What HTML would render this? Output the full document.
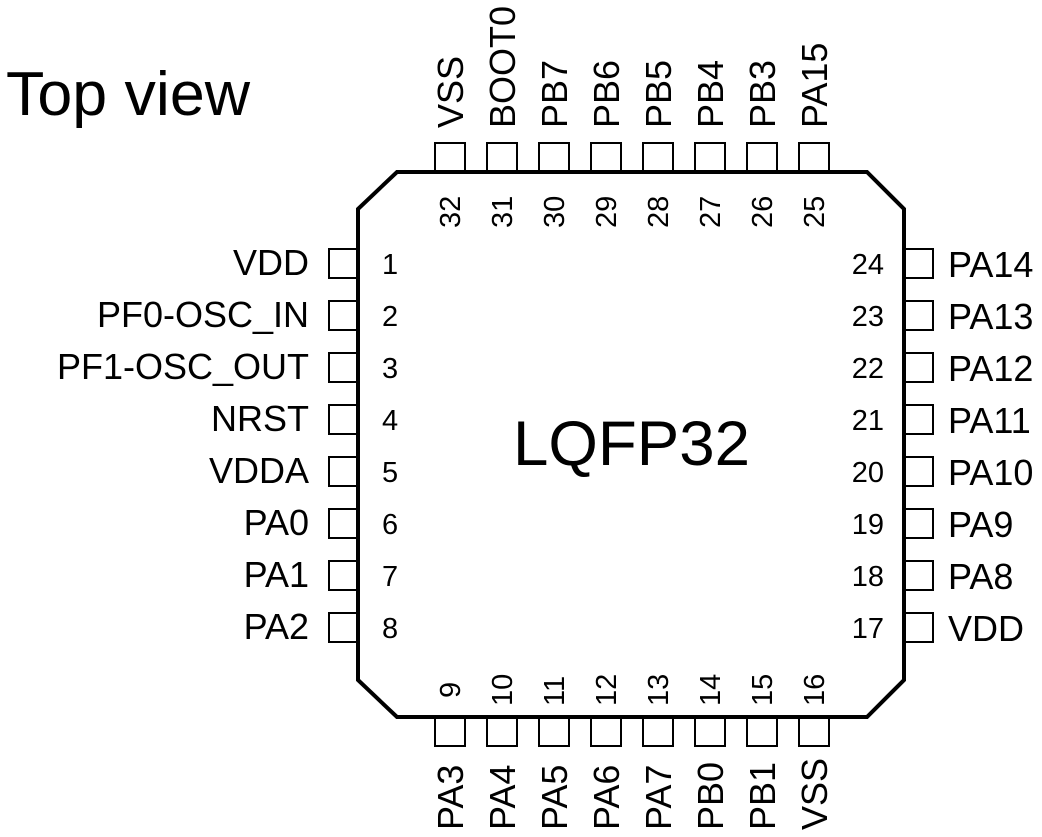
<!DOCTYPE html>
<html><head><style>body{margin:0;background:#fff}svg{display:block}text{font-family:"Liberation Sans",Arial,sans-serif;fill:#000}</style></head>
<body>
<svg width="1042" height="837" viewBox="0 0 1042 837" xmlns="http://www.w3.org/2000/svg">
<text x="6" y="115" font-size="62" textLength="244" lengthAdjust="spacingAndGlyphs">Top view</text>
<text x="513" y="465" font-size="63" textLength="237" lengthAdjust="spacingAndGlyphs">LQFP32</text>
<polygon points="397,172 867,172 904,209 904,680 867,717 397,717 358,680 358,209" fill="none" stroke="#000" stroke-width="4"/>
<g fill="none" stroke="#000" stroke-width="2">
<rect x="329" y="249" width="29" height="29"/><rect x="329" y="301" width="29" height="29"/><rect x="329" y="353" width="29" height="29"/><rect x="329" y="405" width="29" height="29"/><rect x="329" y="457" width="29" height="29"/><rect x="329" y="509" width="29" height="29"/><rect x="329" y="561" width="29" height="29"/><rect x="329" y="613" width="29" height="29"/>
<rect x="904" y="249" width="29" height="29"/><rect x="904" y="301" width="29" height="29"/><rect x="904" y="353" width="29" height="29"/><rect x="904" y="405" width="29" height="29"/><rect x="904" y="457" width="29" height="29"/><rect x="904" y="509" width="29" height="29"/><rect x="904" y="561" width="29" height="29"/><rect x="904" y="613" width="29" height="29"/>
<rect x="435" y="143" width="30" height="29"/><rect x="487" y="143" width="30" height="29"/><rect x="539" y="143" width="30" height="29"/><rect x="591" y="143" width="30" height="29"/><rect x="643" y="143" width="30" height="29"/><rect x="695" y="143" width="30" height="29"/><rect x="747" y="143" width="30" height="29"/><rect x="799" y="143" width="30" height="29"/>
<rect x="435" y="717" width="30" height="29"/><rect x="487" y="717" width="30" height="29"/><rect x="539" y="717" width="30" height="29"/><rect x="591" y="717" width="30" height="29"/><rect x="643" y="717" width="30" height="29"/><rect x="695" y="717" width="30" height="29"/><rect x="747" y="717" width="30" height="29"/><rect x="799" y="717" width="30" height="29"/>
</g>
<g font-size="36" text-anchor="end">
<text x="309" y="275">VDD</text><text x="309" y="327">PF0-OSC_IN</text><text x="309" y="379">PF1-OSC_OUT</text><text x="309" y="431">NRST</text><text x="309" y="483">VDDA</text><text x="309" y="535">PA0</text><text x="309" y="587">PA1</text><text x="309" y="639">PA2</text>
</g>
<g font-size="29">
<text x="382" y="274">1</text><text x="382" y="326">2</text><text x="382" y="378">3</text><text x="382" y="430">4</text><text x="382" y="482">5</text><text x="382" y="534">6</text><text x="382" y="586">7</text><text x="382" y="638">8</text>
</g>
<g font-size="29" text-anchor="end">
<text x="884" y="274">24</text><text x="884" y="326">23</text><text x="884" y="378">22</text><text x="884" y="430">21</text><text x="884" y="482">20</text><text x="884" y="534">19</text><text x="884" y="586">18</text><text x="884" y="638">17</text>
</g>
<g font-size="36">
<text x="948" y="277">PA14</text><text x="948" y="329">PA13</text><text x="948" y="381">PA12</text><text x="948" y="433">PA11</text><text x="948" y="485">PA10</text><text x="948" y="537">PA9</text><text x="948" y="589">PA8</text><text x="948" y="641">VDD</text>
</g>
<g font-size="36">
<text transform="translate(463,128) rotate(-90)">VSS</text><text transform="translate(515,128) rotate(-90)">BOOT0</text><text transform="translate(567,128) rotate(-90)">PB7</text><text transform="translate(619,128) rotate(-90)">PB6</text><text transform="translate(671,128) rotate(-90)">PB5</text><text transform="translate(723,128) rotate(-90)">PB4</text><text transform="translate(775,128) rotate(-90)">PB3</text><text transform="translate(827,128) rotate(-90)">PA15</text>
</g>
<g font-size="29">
<text transform="translate(460,228) rotate(-90)">32</text><text transform="translate(512,228) rotate(-90)">31</text><text transform="translate(564,228) rotate(-90)">30</text><text transform="translate(616,228) rotate(-90)">29</text><text transform="translate(668,228) rotate(-90)">28</text><text transform="translate(720,228) rotate(-90)">27</text><text transform="translate(772,228) rotate(-90)">26</text><text transform="translate(824,228) rotate(-90)">25</text>
</g>
<g font-size="29">
<text transform="translate(460,698) rotate(-90)">9</text><text transform="translate(512,706) rotate(-90)">10</text><text transform="translate(564,706) rotate(-90)">11</text><text transform="translate(616,706) rotate(-90)">12</text><text transform="translate(668,706) rotate(-90)">13</text><text transform="translate(720,706) rotate(-90)">14</text><text transform="translate(772,706) rotate(-90)">15</text><text transform="translate(824,706) rotate(-90)">16</text>
</g>
<g font-size="36">
<text transform="translate(463,830) rotate(-90)">PA3</text><text transform="translate(515,830) rotate(-90)">PA4</text><text transform="translate(567,830) rotate(-90)">PA5</text><text transform="translate(619,830) rotate(-90)">PA6</text><text transform="translate(671,830) rotate(-90)">PA7</text><text transform="translate(723,830) rotate(-90)">PB0</text><text transform="translate(775,830) rotate(-90)">PB1</text><text transform="translate(827,830) rotate(-90)">VSS</text>
</g>
</svg>
</body></html>
